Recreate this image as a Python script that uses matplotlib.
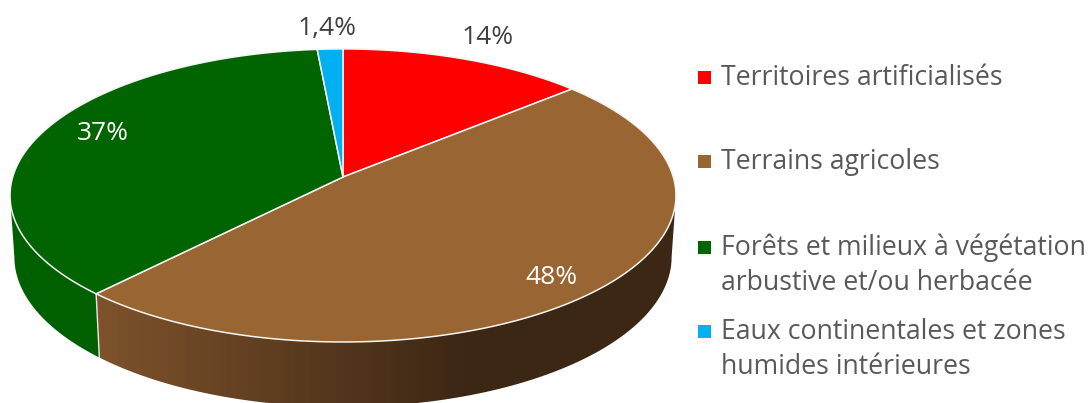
# 3D perspective pie chart, occupation du sol
import numpy as np
import matplotlib
matplotlib.use('Agg')
import matplotlib.pyplot as plt
from matplotlib.colors import LinearSegmentedColormap
from matplotlib.patches import Polygon, Rectangle

plt.rcParams['font.family'] = ['Open Sans', 'DejaVu Sans']

# data
labels = ['Territoires artificialisés', 'Terrains agricoles',
          'Forêts et milieux à végétation\narbustive et/ou herbacée',
          'Eaux continentales et zones\nhumides intérieures']
values = [13.5, 48.3, 36.7, 1.4]
value_labels = ['14%', '48%', '37%', '1,4%']
colors = ['#ff0000', '#996633', '#006400', '#00b0f0']
# side colours : left end / right end of the gradient
side_left = ['#cc0000', '#7d522b', '#005f00', '#0090c8']
side_right = ['#cc0000', '#3c2614', '#005800', '#0090c8']

W, H = 1092, 403
fig = plt.figure(figsize=(W / 100, H / 100), dpi=100)
ax = fig.add_axes([0, 0, 1, 1])
ax.set_xlim(0, W)
ax.set_ylim(H, 0)
ax.axis('off')

CX = 343
K = 0.126  # perspective


def project(theta, r, cy, s):
    # theta clockwise from top, disk -> picture
    u, v = np.sin(theta), np.cos(theta)
    d = 1 + K * v
    return CX + r * u / d, cy - s * v / d


def top(theta):
    return project(theta, 330.3, 177, 144.2)


def bottom(theta):
    return project(theta, 326, 238, 147.6)


edges = np.radians(np.r_[0, np.cumsum(values)] / sum(values) * 360)
# visible part of the rim, between the two widest points
vis_a = np.arccos(-K)
vis_b = 2 * np.pi - vis_a
ramp = np.clip((np.arange(W) - 100) / 370, 0, 1).reshape(1, -1)

# sides first, gradient clipped to the rim shape
for i in range(len(values)):
    a = max(edges[i], vis_a)
    b = min(edges[i + 1], vis_b)
    if b <= a:
        continue
    th = np.linspace(a, b, 200)
    x1, y1 = top(th)
    x2, y2 = bottom(th)
    pts = np.r_[np.c_[x1, y1], np.c_[x2, y2][::-1]]
    clip = Polygon(pts, closed=True, transform=ax.transData, facecolor='none', edgecolor='none')
    ax.add_patch(clip)
    cmap = LinearSegmentedColormap.from_list('side', [side_left[i], side_right[i]])
    im = ax.imshow(ramp, cmap=cmap, vmin=0, vmax=1, extent=[0, W, H, 0], aspect='auto', zorder=1)
    im.set_clip_path(clip)
ax.set_xlim(0, W)
ax.set_ylim(H, 0)

# separator on the side between green and brown
x1, y1 = top(edges[2])
x2, y2 = bottom(edges[2])
ax.plot([x1, x2], [y1, y2], color='#e8e8e8', lw=1.0, zorder=2)

# top slices
for i in range(len(values)):
    th = np.linspace(edges[i], edges[i + 1], 200)
    x, y = top(th)
    pts = np.r_[[[CX, 177]], np.c_[x, y]]
    ax.add_patch(Polygon(pts, closed=True, facecolor=colors[i], edgecolor='#f4f4f4', lw=1.1,
                         joinstyle='round', zorder=3))

# value labels
ax.text(488, 38, value_labels[0], color='#404040', fontsize=19, ha='center', va='center', zorder=4)
ax.text(551, 277, value_labels[1], color='white', fontsize=19, ha='center', va='center', zorder=4)
ax.text(103, 134, value_labels[2], color='white', fontsize=19, ha='center', va='center', zorder=4)
ax.text(327, 29, value_labels[3], color='#404040', fontsize=19, ha='center', va='center', zorder=4)

# legend
legend_y = [77, 161, 247, 331]
for i in range(len(labels)):
    ax.add_patch(Rectangle((698, legend_y[i] - 6.5), 13, 13, facecolor=colors[i], edgecolor='none'))
    for n, line in enumerate(labels[i].split('\n')):
        ax.text(721, legend_y[i] + 1 + n * 35, line, color='#595959', fontsize=19.2, ha='left', va='center')

fig.savefig('out.png', dpi=100)
